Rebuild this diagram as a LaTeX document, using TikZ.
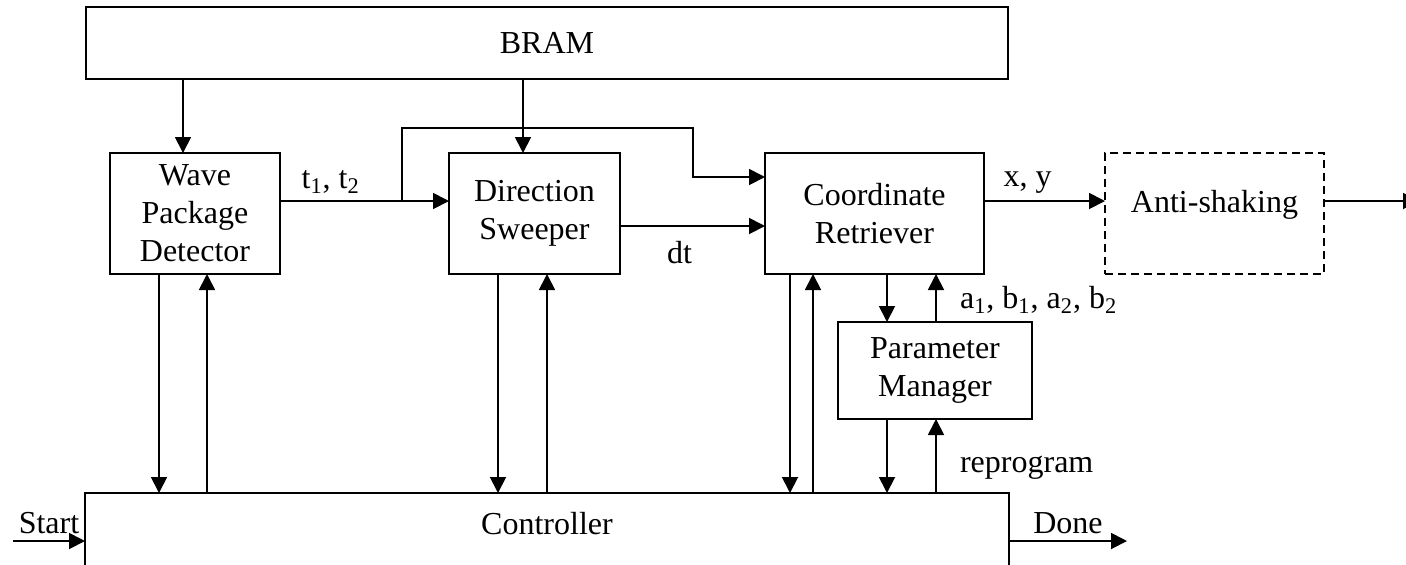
\documentclass[tikz,border=0pt]{standalone}
\usepackage{fontspec}
\setmainfont{Liberation Serif}
\usetikzlibrary{arrows.meta, positioning}

\begin{document}
\begin{tikzpicture}[
  x=0.5pt, y=-0.5pt,
  font=\fontsize{16}{19}\selectfont,
  block/.style={rectangle, draw, line width=1pt, outer sep=0pt, align=center},
  edge/.style={-{Triangle[length=8pt, width=8pt]}, line width=0.9pt}
]
\useasboundingbox (0,0) rectangle (1406,564);
\clip (0,0) rectangle (1406,564);

\node[block, minimum width=461pt, minimum height=36pt] (bram) at (547,43) {BRAM};
\node[block, minimum width=85pt, minimum height=60.5pt] (wpd) at (195,213.5) {Wave\\Package\\Detector};
\node[block, minimum width=85.5pt, minimum height=60.5pt, right=84.5pt of wpd] (ds) {Direction\\Sweeper};
\node[block, minimum width=109.5pt, minimum height=60.5pt, right=72.5pt of ds] (cr) {Coordinate\\Retriever};
\node[block, dashed, dash pattern=on 4pt off 2.5pt, minimum width=109.5pt, minimum height=60.5pt, right=60.5pt of cr] (as) {};
\node (astext) at (1214.5,205) {Anti-shaking};
\node[block, minimum width=97pt, minimum height=48.5pt, below=24pt of cr, xshift=30.25pt] (pm) {Parameter\\Manager};
\node[block, anchor=north, minimum width=462pt, minimum height=60pt] (ctrl) at (547,493) {};
\node (ctrltext) at (547,524) {Controller};

\coordinate (split) at (402,201);
\coordinate (out) at (1419,201);
\coordinate (start) at (13,541);
\coordinate (done) at (1127,541);

% memory reads
\draw[edge] (183,0 |- bram.south) -- (183,0 |- wpd.north);
\draw[edge] (523,0 |- bram.south) -- (523,0 |- ds.north);

% data path
\draw[edge] (wpd.east |- split) -- node[pos=0.3, above] {t\textsubscript{1}, t\textsubscript{2}} (ds.west |- split);
\draw[edge] (split) |- (693,128) |- (cr.west |- 0,177);
\draw[edge] (ds.east |- 0,226) -- node[pos=0.41, below=4pt] {dt} (cr.west |- 0,226);
\draw[edge] (cr.east |- out) -- node[pos=0.36, above] {x, y} (as.west |- out);
\draw[edge] (as.east |- out) -- (out);

% parameters
\draw[edge] (887,0 |- cr.south) -- (887,0 |- pm.north);
\draw[edge] (936,0 |- pm.north) -- (936,0 |- cr.south);
\node[anchor=west] (abl) at (953,300) {a\textsubscript{1}, b\textsubscript{1}, a\textsubscript{2}, b\textsubscript{2}};

% control lines
\draw[edge] (159,0 |- wpd.south) -- (159,0 |- ctrl.north);
\draw[edge] (207,0 |- ctrl.north) -- (207,0 |- wpd.south);
\draw[edge] (498,0 |- ds.south) -- (498,0 |- ctrl.north);
\draw[edge] (547,0 |- ctrl.north) -- (547,0 |- ds.south);
\draw[edge] (790,0 |- cr.south) -- (790,0 |- ctrl.north);
\draw[edge] (813,0 |- ctrl.north) -- (813,0 |- cr.south);
\draw[edge] (887,0 |- pm.south) -- (887,0 |- ctrl.north);
\draw[edge] (936,0 |- ctrl.north) -- (936,0 |- pm.south);
\node[anchor=west] (reprog) at (953,468) {reprogram};

% start / done
\draw[edge] (start) -- node[midway, above] {Start} (start -| ctrl.west);
\draw[edge] (ctrl.east |- done) -- node[midway, above] {Done} (done);
\end{tikzpicture}
\end{document}
